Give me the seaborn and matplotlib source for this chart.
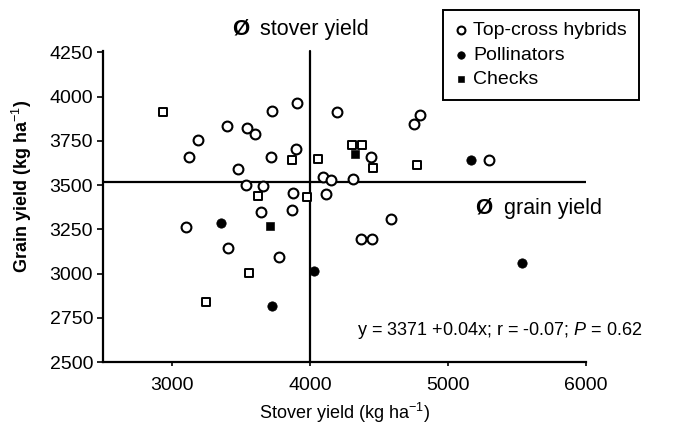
import numpy as np
import pandas as pd
import matplotlib
matplotlib.use("Agg")
import matplotlib.pyplot as plt
import seaborn as sns

# values (kg/ha)
hybrid_stover = [3903, 3725, 3396, 3541, 3604, 3191, 3126, 3715, 3896, 3481,
                 3536, 3657, 4092, 3874, 4114, 3645, 3867, 3101, 3403, 3778,
                 4193, 4797, 4756, 4440, 5300, 4150, 4314, 4373, 4447, 4587]
hybrid_grain = [3966, 3920, 3834, 3825, 3786, 3754, 3659, 3659, 3706, 3590,
                3499, 3494, 3543, 3456, 3452, 3345, 3358, 3264, 3142, 3095,
                3913, 3894, 3844, 3656, 3644, 3528, 3532, 3193, 3193, 3307]

# hybrids that came out as squares in the print
square_stover = [2935, 3867, 4060, 3625, 3976, 3560, 3246, 4302, 4375, 4459, 4777]
square_grain = [3912, 3641, 3650, 3439, 3430, 3001, 2839, 3725, 3725, 3599, 3612]

pollinator_stover = [3353, 4031, 3722, 5167, 5534]
pollinator_grain = [3283, 3016, 2818, 3641, 3061]

check_stover = [3710, 4326]
check_grain = [3270, 3678]

stover_mean = 4000
grain_mean = 3515

x_ticks = [3000, 4000, 5000, 6000]
y_ticks = [2500, 2750, 3000, 3250, 3500, 3750, 4000, 4250]

equation = "y = 3371 +0.04x; r = -0.07; $P$ = 0.62"

sns.set_style("ticks", {"text.color": "black", "xtick.color": "black",
                        "ytick.color": "black", "axes.labelcolor": "black"})
plt.rcParams["font.family"] = ["Liberation Sans", "DejaVu Sans"]
plt.rcParams["mathtext.fontset"] = "custom"
plt.rcParams["mathtext.rm"] = "Liberation Sans"
plt.rcParams["mathtext.it"] = "Liberation Sans:italic"

fig = plt.figure(figsize=(7, 4.29), dpi=100)
ax = fig.add_axes([0.147, 0.156, 0.69, 0.784])

hyb = pd.DataFrame({"stover": hybrid_stover, "grain": hybrid_grain})
sq = pd.DataFrame({"stover": square_stover, "grain": square_grain})
pol = pd.DataFrame({"stover": pollinator_stover, "grain": pollinator_grain})
chk = pd.DataFrame({"stover": check_stover, "grain": check_grain})

sns.scatterplot(data=hyb, x="stover", y="grain", ax=ax, marker="o", s=50,
                facecolor="white", edgecolor="black", linewidth=1.5,
                label="Top-cross hybrids", zorder=3)
sns.scatterplot(data=sq, x="stover", y="grain", ax=ax, marker="s", s=38,
                facecolor="white", edgecolor="black", linewidth=1.4, zorder=3)
sns.scatterplot(data=pol, x="stover", y="grain", ax=ax, marker="o", s=45,
                color="black", edgecolor="black", label="Pollinators", zorder=3)
sns.scatterplot(data=chk, x="stover", y="grain", ax=ax, marker="s", s=30,
                color="black", edgecolor="black", label="Checks", zorder=3)

ax.set_xlim(2500, 6000)
ax.set_ylim(2500, 4400)
ax.axhline(grain_mean, color="black", lw=1.6, zorder=2)
ax.axvline(stover_mean, ymax=0.926, color="black", lw=1.6, zorder=2)

ax.set_xticks(x_ticks)
ax.set_yticks(y_ticks)
ax.tick_params(axis="x", length=3, width=1.2, pad=8, labelsize=14,
               colors="black")
ax.tick_params(axis="y", length=4, width=1.2, pad=3, labelsize=14,
               colors="black")
sns.despine(ax=ax)
ax.spines["left"].set_bounds(2500, 4260)
for sp in ["left", "bottom"]:
    ax.spines[sp].set_linewidth(1.6)
    ax.spines[sp].set_color("black")

ax.set_xlabel("Stover yield (kg ha$^{-1}$)", fontsize=13, labelpad=5,
              color="black")
ax.set_ylabel("")
fig.text(0.031, 0.566, "Grain yield (kg ha$^{-1}$)", rotation=90,
         ha="center", va="center", fontsize=13, fontweight="bold",
         color="black")

ax.text(0.526, 0.095, equation, transform=ax.transAxes, fontsize=13,
        ha="left", va="center", color="black")

ax.text(0.267, 0.99, "Ø", transform=ax.transAxes, fontsize=16,
        fontweight="bold", ha="left", va="center", color="black")
ax.text(0.325, 0.99, "stover yield", transform=ax.transAxes, fontsize=15.5,
        ha="left", va="center", color="black")
ax.text(0.77, 0.458, "Ø", transform=ax.transAxes, fontsize=16,
        fontweight="bold", ha="left", va="center", color="black")
ax.text(0.83, 0.458, "grain yield", transform=ax.transAxes, fontsize=15.5,
        ha="left", va="center", color="black")

leg = ax.legend(loc="upper left", bbox_to_anchor=(443 / 700, 1 - 10 / 429),
                bbox_transform=fig.transFigure, borderaxespad=0,
                fontsize=14, handlelength=0.6, handletextpad=0.35,
                labelspacing=0.35, borderpad=0.6, fancybox=False,
                framealpha=1, edgecolor="black", markerscale=0.8)
leg.get_frame().set_linewidth(1.4)
for t in leg.get_texts():
    t.set_color("black")

fig.savefig("out.png", dpi=100)
